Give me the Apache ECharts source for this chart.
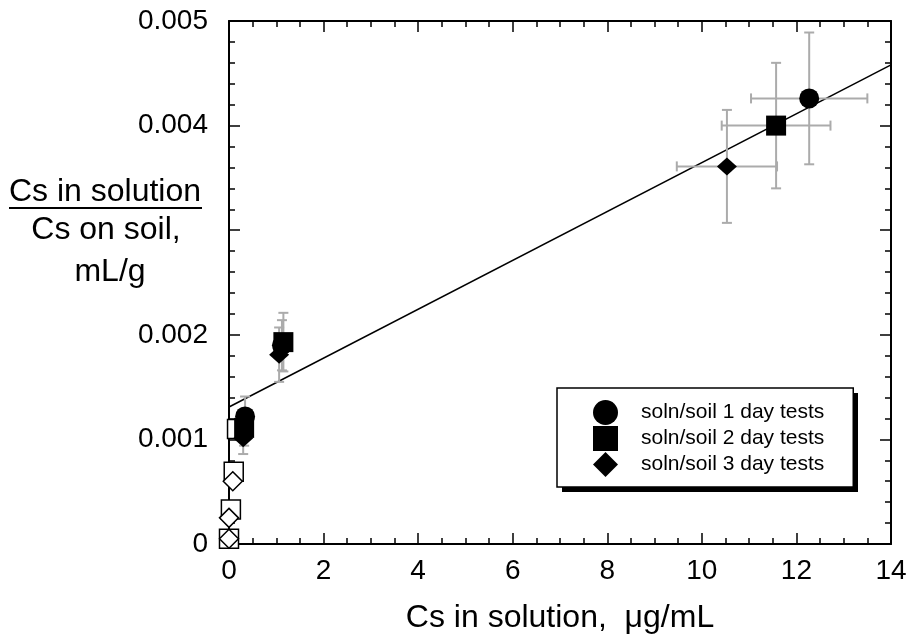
<!DOCTYPE html>
<html>
<head>
<meta charset="utf-8">
<script src="https://cdn.jsdelivr.net/npm/echarts@6/dist/echarts.min.js"></script>
<style>
  html, body { margin: 0; padding: 0; background: #fff; }
  #chart { width: 910px; height: 642px; }
</style>
</head>
<body>
<div id="chart"></div>
<script>
// Cs distribution: solution/soil ratio vs Cs concentration in solution
const xTicks = [0, 2, 4, 6, 8, 10, 12, 14];
const yTickLabels = { 0: '0', 1: '0.001', 2: '0.002', 3: '', 4: '0.004', 5: '0.005' };

// 1-day tests (filled circles)
const day1X = [0.34, 1.12, 12.27];
const day1Y = [0.00122, 0.00190, 0.00426];
const day1XErr = [0, 0, 1.23];
const day1YErr = [0.00019, 0.00024, 0.00063];

// 2-day tests (filled squares)
const day2X = [0.32, 1.15, 11.57];
const day2Y = [0.00111, 0.00193, 0.00400];
const day2XErr = [0, 0, 1.15];
const day2YErr = [0.00017, 0.00028, 0.00060];

// 3-day tests (filled diamonds)
const day3X = [0.30, 1.06, 10.53];
const day3Y = [0.00101, 0.00181, 0.00361];
const day3XErr = [0, 0, 1.06];
const day3YErr = [0.00015, 0.00026, 0.00054];

// low-concentration tests (open markers)
const openSqX = [0.17, 0.10, 0.04, 0.00];
const openSqY = [0.00110, 0.00069, 0.00033, 0.00005];
const openDiX = [0.08, 0.00, 0.00];
const openDiY = [0.00060, 0.00025, 0.00005];

// linear fit endpoints
const fitX = [0, 14];
const fitY = [0.00131, 0.00458];

const seriesNames = ['soln/soil 1 day tests', 'soln/soil 2 day tests', 'soln/soil 3 day tests'];

const zip = (xs, ys) => xs.map((x, i) => [x, ys[i]]);
const zipErr = (xs, ys, ex, ey) => xs.map((x, i) => [x, ys[i], ex[i], ey[i]]);

const errData = [].concat(
  zipErr(day1X, day1Y, day1XErr, day1YErr),
  zipErr(day2X, day2Y, day2XErr, day2YErr),
  zipErr(day3X, day3Y, day3XErr, day3YErr)
);

const ERR_COLOR = '#ababab';
const CAP = 5;

function renderErr(params, api) {
  const x = api.value(0), y = api.value(1), ex = api.value(2), ey = api.value(3);
  const children = [];
  const style = { stroke: ERR_COLOR, lineWidth: 2 };
  if (ey > 0) {
    const top = api.coord([x, y + ey]);
    const bot = api.coord([x, y - ey]);
    children.push(
      { type: 'line', shape: { x1: top[0], y1: top[1], x2: bot[0], y2: bot[1] }, style },
      { type: 'line', shape: { x1: top[0] - CAP, y1: top[1], x2: top[0] + CAP, y2: top[1] }, style },
      { type: 'line', shape: { x1: bot[0] - CAP, y1: bot[1], x2: bot[0] + CAP, y2: bot[1] }, style }
    );
  }
  if (ex > 0) {
    const l = api.coord([x - ex, y]);
    const r = api.coord([x + ex, y]);
    children.push(
      { type: 'line', shape: { x1: l[0], y1: l[1], x2: r[0], y2: r[1] }, style },
      { type: 'line', shape: { x1: l[0], y1: l[1] - CAP, x2: l[0], y2: l[1] + CAP }, style },
      { type: 'line', shape: { x1: r[0], y1: r[1] - CAP, x2: r[0], y2: r[1] + CAP }, style }
    );
  }
  return { type: 'group', children };
}

const FONT = 'Liberation Sans, Arial, Helvetica, sans-serif';

const baseAxis = {
  axisLine: { show: true, onZero: false, lineStyle: { color: '#000', width: 2 } },
  axisTick: { show: true, inside: true, length: 11, lineStyle: { color: '#000', width: 1.5 } },
  minorTick: { show: true, length: 6, lineStyle: { color: '#000', width: 1.5 } },
  splitLine: { show: false },
  minorSplitLine: { show: false }
};

const chart = echarts.init(document.getElementById('chart'), null, { renderer: 'canvas' });

chart.setOption({
  animation: false,
  backgroundColor: '#fff',
  grid: { left: 229, right: 19, top: 21, bottom: 98, containLabel: false },
  xAxis: [
    Object.assign({}, baseAxis, {
      type: 'value', position: 'bottom', min: xTicks[0], max: xTicks[xTicks.length - 1], interval: 2,
      minorTick: Object.assign({}, baseAxis.minorTick, { splitNumber: 4 }),
      axisLabel: { color: '#000', fontSize: 28, fontFamily: FONT, margin: 13 },
      name: 'Cs in solution,  μg/mL',
      nameLocation: 'middle', nameGap: 58,
      nameTextStyle: { color: '#000', fontSize: 32, fontFamily: FONT }
    }),
    Object.assign({}, baseAxis, {
      type: 'value', position: 'top', min: 0, max: 14, interval: 2,
      minorTick: Object.assign({}, baseAxis.minorTick, { splitNumber: 4 }),
      axisLabel: { show: false }
    })
  ],
  yAxis: [
    Object.assign({}, baseAxis, {
      type: 'value', position: 'left', min: 0, max: 0.005, interval: 0.001,
      minorTick: Object.assign({}, baseAxis.minorTick, { splitNumber: 5 }),
      axisLabel: {
        color: '#000', fontSize: 28, fontFamily: FONT, margin: 21,
        formatter: v => yTickLabels[Math.round(v * 1000)]
      }
    }),
    Object.assign({}, baseAxis, {
      type: 'value', position: 'right', min: 0, max: 0.005, interval: 0.001,
      minorTick: Object.assign({}, baseAxis.minorTick, { splitNumber: 5 }),
      axisLabel: { show: false }
    })
  ],
  legend: {
    data: seriesNames,
    orient: 'vertical',
    left: 557, top: 388,
    padding: [12, 29, 10, 36],
    itemWidth: 25, itemHeight: 25, itemGap: 1,
    backgroundColor: '#fff',
    borderColor: '#000', borderWidth: 1.5, borderRadius: 0,
    textStyle: { color: '#000', fontSize: 21, fontFamily: FONT, padding: [0, 0, 0, 18] },
    selectedMode: false,
    z: 10
  },
  graphic: [
    { type: 'text', style: { text: 'Cs in solution', x: 105, y: 192, align: 'center', verticalAlign: 'middle', font: '32px ' + FONT, fill: '#000' } },
    { type: 'line', shape: { x1: 9, y1: 208, x2: 202, y2: 208 }, style: { stroke: '#000', lineWidth: 2 } },
    { type: 'text', style: { text: 'Cs on soil,', x: 106, y: 230, align: 'center', verticalAlign: 'middle', font: '32px ' + FONT, fill: '#000' } },
    { type: 'text', style: { text: 'mL/g', x: 110, y: 272, align: 'center', verticalAlign: 'middle', font: '32px ' + FONT, fill: '#000' } },
    // drop shadow behind the legend box
    { type: 'rect', z: 9, shape: { x: 562, y: 393, width: 296, height: 99 }, style: { fill: '#000' } }
  ],
  series: [
    {
      type: 'line', data: zip(fitX, fitY), symbol: 'none', silent: true,
      lineStyle: { color: '#000', width: 1.5 }, z: 2
    },
    {
      type: 'scatter', data: zip(openSqX, openSqY), symbol: 'rect', symbolSize: 19,
      itemStyle: { color: '#fff', borderColor: '#000', borderWidth: 1.5, opacity: 1 }, z: 3, clip: false
    },
    {
      type: 'scatter', data: zip(openDiX, openDiY), symbol: 'diamond', symbolSize: [19, 19],
      itemStyle: { color: '#fff', borderColor: '#000', borderWidth: 1.5, opacity: 1 }, z: 3, clip: false
    },
    {
      type: 'custom', renderItem: renderErr, data: errData, silent: true, z: 4,
      encode: { x: 0, y: 1 }
    },
    {
      name: seriesNames[0], type: 'scatter', data: zip(day1X, day1Y), symbol: 'circle', symbolSize: 20,
      itemStyle: { color: '#000', opacity: 1 }, z: 5
    },
    {
      name: seriesNames[1], type: 'scatter', data: zip(day2X, day2Y), symbol: 'rect', symbolSize: 20,
      itemStyle: { color: '#000', opacity: 1 }, z: 6
    },
    {
      name: seriesNames[2], type: 'scatter', data: zip(day3X, day3Y), symbol: 'diamond', symbolSize: [20, 18],
      itemStyle: { color: '#000', opacity: 1 }, z: 7
    }
  ]
});
</script>
</body>
</html>
